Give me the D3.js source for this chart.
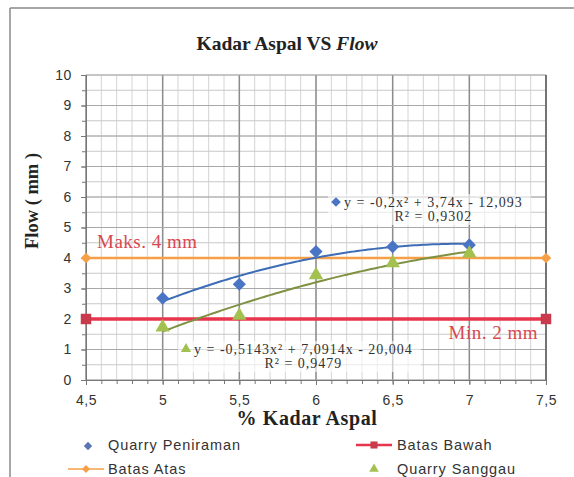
<!DOCTYPE html>
<html>
<head>
<meta charset="utf-8">
<script src="https://cdn.jsdelivr.net/npm/d3@7"></script>
<style>
  html, body { margin: 0; padding: 0; background: #fff; }
  svg { display: block; }
</style>
</head>
<body>
<svg id="chart" width="574" height="477"></svg>
<script>
// Asphalt content (%) tested for each quarry
const kadarAspal = [5, 5.5, 6, 6.5, 7];
// Flow (mm) per asphalt content
const flowPeniraman = [2.68, 3.14, 4.21, 4.37, 4.43];
const flowSanggau = [1.73, 2.11, 3.44, 3.83, 4.15];
// Specification limits (mm) drawn across the full x range
const batasX = [4.5, 7.5];
const batasAtas = [4, 4];
const batasBawah = [2, 2];
// Axis ticks
const xTicks = [4.5, 5, 5.5, 6, 6.5, 7, 7.5];
const yTicks = [0, 1, 2, 3, 4, 5, 6, 7, 8, 9, 10];
// Trendline equation labels
const eqPeniraman = ["y = -0,2x² + 3,74x - 12,093", "R² = 0,9302"];
const eqSanggau = ["y = -0,5143x² + 7,0914x - 20,004", "R² = 0,9479"];

const svg = d3.select("#chart");
const W = 574, H = 477;
const m = { left: 86, right: 546, top: 75, bottom: 380 };

const x = d3.scaleLinear().domain([4.5, 7.5]).range([m.left, m.right]);
const y = d3.scaleLinear().domain([0, 10]).range([m.bottom, m.top]);
const fmt = v => String(v).replace(".", ",");
const serif = "Liberation Serif, Times New Roman, serif";
const sans = "Liberation Sans, Arial, sans-serif";

// Outer chart frame (top and left edges)
svg.append("line").attr("x1", 10).attr("x2", W).attr("y1", 8).attr("y2", 8)
  .attr("stroke", "#8a8a8a").attr("stroke-width", 1.5);
svg.append("line").attr("x1", 10).attr("x2", 10).attr("y1", 8).attr("y2", H)
  .attr("stroke", "#8a8a8a").attr("stroke-width", 1.5);

// Title
const title = svg.append("text").attr("x", 287).attr("y", 50)
  .attr("text-anchor", "middle")
  .attr("font-family", serif)
  .attr("font-size", 19.5).attr("font-weight", "bold").attr("fill", "#222");
title.append("tspan").text("Kadar Aspal VS ");
title.append("tspan").attr("font-style", "italic").text("Flow");

// Grid: minor first, then major
const g = svg.append("g");
const minorX = d3.range(45, 76).map(d => d / 10);
const minorY = d3.range(0, 21).map(d => d / 2);
g.selectAll(".vminor").data(minorX).join("line")
  .attr("x1", d => x(d)).attr("x2", d => x(d))
  .attr("y1", m.top).attr("y2", m.bottom)
  .attr("stroke", "#d4d4d4").attr("stroke-width", 1);
g.selectAll(".hminor").data(minorY).join("line")
  .attr("x1", m.left).attr("x2", m.right)
  .attr("y1", d => y(d)).attr("y2", d => y(d))
  .attr("stroke", "#c8c8c8").attr("stroke-width", 1);
g.selectAll(".vmajor").data(xTicks).join("line")
  .attr("x1", d => x(d)).attr("x2", d => x(d))
  .attr("y1", m.top).attr("y2", m.bottom)
  .attr("stroke", "#8c8c8c").attr("stroke-width", 1.5);
g.selectAll(".hmajor").data(yTicks).join("line")
  .attr("x1", m.left).attr("x2", m.right)
  .attr("y1", d => y(d)).attr("y2", d => y(d))
  .attr("stroke", "#a8a8a8").attr("stroke-width", 1.2);
// Right plot edge
g.append("line").attr("x1", m.right).attr("x2", m.right)
  .attr("y1", m.top).attr("y2", m.bottom)
  .attr("stroke", "#555").attr("stroke-width", 1.2);

// Axes
const xAxis = d3.axisBottom(x).tickValues(xTicks).tickFormat(fmt).tickSize(5).tickPadding(10);
const xMinorAxis = d3.axisBottom(x).tickValues(minorX).tickFormat("").tickSize(4);
const yAxis = d3.axisLeft(y).tickValues(yTicks).tickFormat(fmt).tickSize(5).tickPadding(9);
const yMinorAxis = d3.axisLeft(y).tickValues(minorY).tickFormat("").tickSize(4);

function styleAxis(sel) {
  sel.select(".domain").attr("stroke", "#777");
  sel.selectAll(".tick line").attr("stroke", "#777");
  sel.selectAll("text").attr("font-family", sans)
    .attr("font-size", 14).attr("letter-spacing", 0.6).attr("fill", "#333");
}
svg.append("g").attr("transform", `translate(0,${m.bottom})`).call(xMinorAxis).call(styleAxis);
svg.append("g").attr("transform", `translate(0,${m.bottom})`).call(xAxis).call(styleAxis);
svg.append("g").attr("transform", `translate(${m.left},0)`).call(yMinorAxis).call(styleAxis);
svg.append("g").attr("transform", `translate(${m.left},0)`).call(yAxis).call(styleAxis);

// Axis titles
svg.append("text").attr("x", 307).attr("y", 425).attr("text-anchor", "middle")
  .attr("font-family", serif)
  .attr("font-size", 20).attr("font-weight", "bold").attr("letter-spacing", 0.6).attr("fill", "#222")
  .text("% Kadar Aspal");
svg.append("text").attr("transform", "translate(38,201) rotate(-90)")
  .attr("text-anchor", "middle")
  .attr("font-family", serif)
  .attr("font-size", 18.5).attr("font-weight", "bold").attr("fill", "#222")
  .text("Flow  ( mm )");

// Colours
const cBlue = "#4a74c4", cBlueLine = "#3d6db6";
const cGreen = "#a3c14f", cGreenLine = "#7f9143";
const cOrange = "#f5a047", cRed = "#e8344c", cRedMark = "#c93a4c";

// Limit lines
const lineGen = d3.line().x(d => x(d[0])).y(d => y(d[1]));
const atasPts = batasX.map((v, i) => [v, batasAtas[i]]);
const bawahPts = batasX.map((v, i) => [v, batasBawah[i]]);
svg.append("path").attr("d", lineGen(atasPts)).attr("fill", "none")
  .attr("stroke", cOrange).attr("stroke-width", 2.5);
svg.append("path").attr("d", lineGen(bawahPts)).attr("fill", "none")
  .attr("stroke", cRed).attr("stroke-width", 3.5);
const diamond = d3.symbol().type(d3.symbolDiamond2);
const square = d3.symbol().type(d3.symbolSquare);
const tri = d3.symbol().type(d3.symbolTriangle);
svg.selectAll(".atasM").data(atasPts).join("path")
  .attr("d", diamond.size(70)())
  .attr("transform", d => `translate(${x(d[0])},${y(d[1])})`)
  .attr("fill", cOrange);
svg.selectAll(".bawahM").data(bawahPts).join("path")
  .attr("d", square.size(110)())
  .attr("transform", d => `translate(${x(d[0])},${y(d[1])})`)
  .attr("fill", cRedMark);

// Limit annotations
svg.append("text").attr("x", 97).attr("y", 248)
  .attr("font-family", serif).attr("letter-spacing", 0.5)
  .attr("font-size", 19).attr("fill", "#d84850").text("Maks. 4 mm");
svg.append("text").attr("x", 538).attr("y", 339).attr("text-anchor", "end")
  .attr("font-family", serif).attr("letter-spacing", 0.5)
  .attr("font-size", 19).attr("fill", "#d84850").text("Min. 2 mm");

// Least-squares quadratic fit through a series
function quadFit(xs, ys) {
  const n = xs.length;
  let s = [0, 0, 0, 0, 0], t = [0, 0, 0];
  for (let i = 0; i < n; i++) {
    for (let k = 0; k <= 4; k++) s[k] += Math.pow(xs[i], k);
    for (let k = 0; k <= 2; k++) t[k] += ys[i] * Math.pow(xs[i], k);
  }
  const A = [[s[0], s[1], s[2]], [s[1], s[2], s[3]], [s[2], s[3], s[4]]];
  const det = M => M[0][0]*(M[1][1]*M[2][2]-M[1][2]*M[2][1]) - M[0][1]*(M[1][0]*M[2][2]-M[1][2]*M[2][0]) + M[0][2]*(M[1][0]*M[2][1]-M[1][1]*M[2][0]);
  const D = det(A);
  const c = [0, 1, 2].map(j => det(A.map((row, r) => row.map((v, col) => col === j ? t[r] : v))) / D);
  return xv => c[0] + c[1] * xv + c[2] * xv * xv;
}
function trend(xs, ys, color) {
  const f = quadFit(xs, ys);
  const pts = d3.range(0, 101).map(i => {
    const xv = xs[0] + (xs[xs.length - 1] - xs[0]) * i / 100;
    return [xv, f(xv)];
  });
  svg.append("path").attr("d", d3.line()
      .x(d => x(d[0])).y(d => y(d[1]))(pts))
    .attr("fill", "none").attr("stroke", color).attr("stroke-width", 2);
}
trend(kadarAspal, flowPeniraman, cBlueLine);
trend(kadarAspal, flowSanggau, cGreenLine);

// Data markers
svg.selectAll(".pen").data(kadarAspal).join("path")
  .attr("d", diamond.size(110)())
  .attr("transform", (d, i) => `translate(${x(d)},${y(flowPeniraman[i])})`)
  .attr("fill", cBlue);
svg.selectAll(".sang").data(kadarAspal).join("path")
  .attr("d", tri.size(90)())
  .attr("transform", (d, i) => `translate(${x(d)},${y(flowSanggau[i])})`)
  .attr("fill", cGreen);

// Trendline equation labels
function eqLabel(left, top, lines, sym, color) {
  const grp = svg.append("g");
  const t1 = grp.append("text").attr("x", left + 8).attr("y", top + 1)
    .attr("font-family", serif).attr("letter-spacing", 1)
    .attr("font-size", 14).attr("fill", "#333").text(lines[0]);
  const w = t1.node().getComputedTextLength();
  grp.insert("rect", "text").attr("x", left - 8).attr("y", top - 12).attr("width", w + 24).attr("height", 31)
    .attr("fill", "#fff").attr("opacity", 0.6);
  grp.append("path").attr("d", sym)
    .attr("transform", `translate(${left},${top - 4})`).attr("fill", color);
  grp.append("text").attr("x", left + 8 + w / 2).attr("y", top + 15).attr("text-anchor", "middle")
    .attr("font-family", serif).attr("letter-spacing", 1)
    .attr("font-size", 14).attr("fill", "#333").text(lines[1]);
}
eqLabel(336, 206, eqPeniraman, diamond.size(60)(), cBlue);
eqLabel(186, 353, eqSanggau, tri.size(45)(), cGreen);

// Legend
const lg = svg.append("g").attr("font-family", sans)
  .attr("font-size", 14.5).attr("letter-spacing", 0.9).attr("fill", "#333");
lg.append("path").attr("d", diamond.size(45)()).attr("transform", "translate(88,446)").attr("fill", "#5a77b4");
lg.append("text").attr("x", 108).attr("y", 450).text("Quarry Peniraman");
lg.append("line").attr("x1", 356).attr("x2", 392).attr("y1", 445).attr("y2", 445)
  .attr("stroke", cRed).attr("stroke-width", 2.5);
lg.append("path").attr("d", square.size(50)()).attr("transform", "translate(374,445)").attr("fill", cRedMark);
lg.append("text").attr("x", 397).attr("y", 450).text("Batas Bawah");
lg.append("line").attr("x1", 68).attr("x2", 104).attr("y1", 469).attr("y2", 469)
  .attr("stroke", cOrange).attr("stroke-width", 1.5);
lg.append("path").attr("d", diamond.size(40)()).attr("transform", "translate(86,469)").attr("fill", cOrange);
lg.append("text").attr("x", 108).attr("y", 474).text("Batas Atas");
lg.append("path").attr("d", tri.size(40)()).attr("transform", "translate(374,469)").attr("fill", cGreen);
lg.append("text").attr("x", 397).attr("y", 474).text("Quarry Sanggau");
</script>
</body>
</html>
